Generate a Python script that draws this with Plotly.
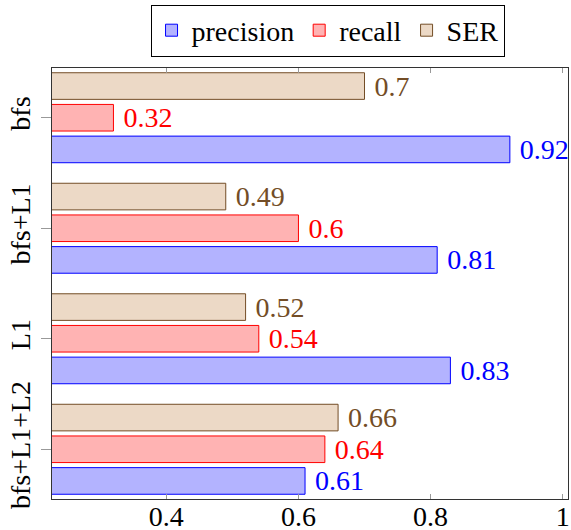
import plotly.graph_objects as go

categories = ["bfs", "bfs+L1", "L1", "bfs+L1+L2"]
precision = [0.92, 0.81, 0.83, 0.61]
recall = [0.32, 0.60, 0.54, 0.64]
ser = [0.70, 0.49, 0.52, 0.66]
x_ticks = [0.4, 0.6, 0.8, 1.0]
x_tick_labels = ["0.4", "0.6", "0.8", "1"]

FONT = "Liberation Serif"
FS = 28

series = [
    ("precision", precision, "#b3b3ff", "#0000ff", "#0000ff"),
    ("recall", recall, "#ffb3b3", "#ff0000", "#ff0000"),
    ("SER", ser, "#ecd9c6", "#734d26", "#734d26"),
]

fig = go.Figure()
for name, vals, fill, line, tcol in series:
    fig.add_trace(go.Bar(
        name=name, y=categories, x=vals, orientation="h",
        marker=dict(color=fill, line=dict(color=line, width=1)),
        text=[f" {v:g}" for v in vals], textposition="outside",
        textfont=dict(color=tcol, size=FS, family=FONT),
        cliponaxis=False, constraintext="none",
    ))

fig.update_layout(
    width=571, height=530,
    margin=dict(l=52, r=3, t=68, b=31, autoexpand=False),
    barmode="group", bargap=0.14, bargroupgap=0.16,
    plot_bgcolor="white", paper_bgcolor="white",
    font=dict(family=FONT, size=FS, color="black"),
    legend=dict(orientation="h", x=0.534, y=1.087, xanchor="center", yanchor="middle",
                bordercolor="black", borderwidth=1, font=dict(size=FS, family=FONT),
                itemwidth=30, tracegroupgap=0),
    xaxis=dict(range=[0.227, 1.008], tickvals=x_ticks, ticktext=x_tick_labels,
               ticks="inside", ticklen=5, tickcolor="#999999", mirror="ticks",
               showline=True, linecolor="#333333", linewidth=1, showgrid=False,
               zeroline=False, tickfont=dict(size=FS), automargin=False,
               ticklabelstandoff=-8, ticklabeloverflow="allow"),
    yaxis=dict(categoryorder="array", categoryarray=categories[::-1],
               range=[-0.45, 3.45], ticks="outside", ticklen=10, tickcolor="#999999",
               mirror=True, showline=True, linecolor="#333333", linewidth=1,
               showgrid=False, tickangle=-90, tickfont=dict(size=FS), automargin=False,
               ticklabeloverflow="allow"),
)

fig.write_html(
    "out.html",
    config={"displayModeBar": False},
    post_script="document.body.style.margin='0';document.body.style.overflow='hidden';",
)
